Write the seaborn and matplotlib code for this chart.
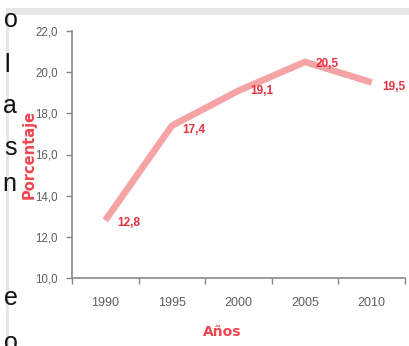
import matplotlib
matplotlib.use("Agg")
import matplotlib.pyplot as plt
import seaborn as sns
import pandas as pd
import numpy as np
from matplotlib.ticker import FixedLocator, MultipleLocator, FuncFormatter
from matplotlib.patches import Rectangle

years = ["1990", "1995", "2000", "2005", "2010"]
values = [12.8, 17.4, 19.1, 20.5, 19.5]
value_labels = ["12,8", "17,4", "19,1", "20,5", "19,5"]
side_letters = ["o", "l", "a", "s", "n", "e", "o"]
side_letter_base = [27, 72, 113, 155, 191, 305, 350]
side_letter_right = [18, 10, 17, 17, 16, 18, 18]

sns.set_theme(style="white")
plt.rcParams['font.family'] = ['Liberation Sans', 'DejaVu Sans']

W, H = 409, 346
fig = plt.figure(figsize=(W / 100, H / 100), dpi=100)
fig.patch.set_facecolor("white")

# screenshot frame: gray top band and left rule
fig.add_artist(Rectangle((8 / W, 1 - 15 / H), 1, 7 / H, transform=fig.transFigure,
                         facecolor="#e6e6e6", edgecolor="none"))
fig.add_artist(Rectangle((6 / W, 0), 2.5 / W, 1 - 8 / H, transform=fig.transFigure,
                         facecolor="#e6e6e6", edgecolor="none"))

# cut-off letters from surrounding text
for ch, yb, xr in zip(side_letters, side_letter_base, side_letter_right):
    fig.text(xr / W, 1 - yb / H, ch, ha="right", va="baseline", fontsize=18,
             color="#111111")

ax = fig.add_axes([72 / W, 1 - 278 / H, (405 - 72) / W, (278 - 31) / H])
df = pd.DataFrame({"Año": years, "Porcentaje": values})
sns.lineplot(data=df, x="Año", y="Porcentaje", ax=ax, color="#f6a3a6",
             linewidth=4.8, solid_capstyle="butt", sort=False)

ax.set_xlim(-0.5, 4.5)
ax.set_ylim(10, 22)
ax.yaxis.set_major_locator(MultipleLocator(2))
ax.yaxis.set_major_formatter(FuncFormatter(lambda v, p: f"{v:.1f}".replace(".", ",")))
ax.set_xticks(range(len(years)))
ax.set_xticklabels(years)
ax.xaxis.set_minor_locator(FixedLocator(np.arange(-0.5, 5, 1.0)))
ax.tick_params(axis="x", which="major", length=0, pad=14, labelsize=9, labelcolor="#5e5e5e")
ax.tick_params(axis="x", which="minor", length=4, width=1, color="#888888", direction="out",
               bottom=True)
ax.tick_params(axis="y", which="major", length=4, width=1, color="#888888", direction="out",
               labelsize=8.3, labelcolor="#5e5e5e", pad=6, left=True)

for s in ["top", "right"]:
    ax.spines[s].set_visible(False)
for s in ["left", "bottom"]:
    ax.spines[s].set_color("#8a8a8a")
    ax.spines[s].set_linewidth(1.2)

ax.set_xlabel("Años", color="#f0454f", fontsize=10, fontweight="bold",
              family=["DejaVu Sans"])
ax.xaxis.set_label_coords((222 - 72) / 333, -(325 - 278) / 247)
ax.set_ylabel("Porcentaje", color="#f0454f", fontsize=10.5, fontweight="bold",
              family=["DejaVu Sans"])
ax.yaxis.set_label_coords(-(72 - 37) / 333, 0.5)

offsets = [(0.18, -0.12), (0.15, -0.2), (0.18, -0.02), (0.16, -0.1), (0.16, -0.22)]
for i, (lab, v) in enumerate(zip(value_labels, values)):
    dx, dy = offsets[i]
    ax.text(i + dx, v + dy, lab, ha="left", va="center", fontsize=8.5,
            color="#e8313d", fontweight="bold")

fig.savefig("out.png", dpi=100, facecolor="white")
